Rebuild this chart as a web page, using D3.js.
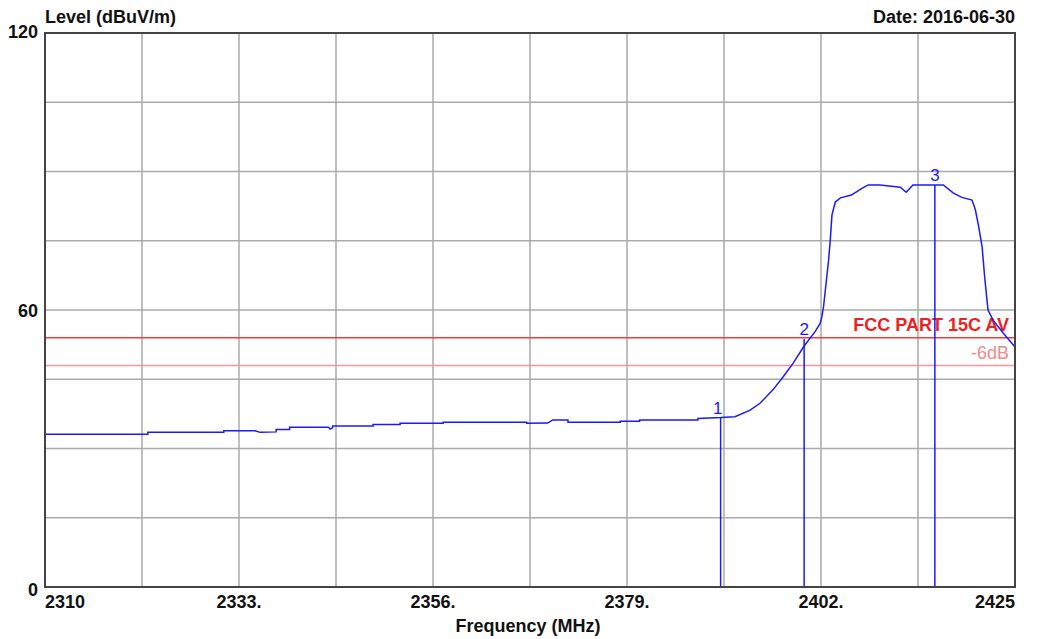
<!DOCTYPE html>
<html><head><meta charset="utf-8">
<script src="https://cdn.jsdelivr.net/npm/d3@7"></script>
<style>body{margin:0;background:#fff;}svg{display:block;font-family:"Liberation Sans",Arial,sans-serif;}</style>
</head><body><svg id="c" width="1037" height="639"></svg>
<script>
const freqs = [2310,2322.2,2322.2,2331.2,2331.2,2334.9,2335.5,2337.4,2337.4,2339.0,2339.0,2343.6,2343.8,2344.1,2344.1,2348.9,2348.9,2352.1,2352.1,2357.2,2357.2,2367.1,2367.1,2369.6,2370.2,2372.0,2372.0,2378.2,2378.2,2380.5,2380.5,2387.4,2387.4,2390.1,2391.8,2393.6,2394.8,2396.3,2397.5,2398.7,2400.0,2401.3,2401.9,2402.1,2402.3,2402.9,2403.1,2403.3,2403.7,2404.3,2405.6,2406.8,2407.6,2409.0,2411.4,2412.1,2412.9,2415.5,2416.5,2417.7,2418.7,2419.9,2420.3,2420.7,2421.1,2421.4,2421.8,2422.4,2423.6,2425];
const levels = [33.1,33.1,33.5,33.5,33.85,33.85,33.5,33.6,34.1,34.1,34.6,34.6,34.2,34.5,34.9,34.9,35.2,35.2,35.45,35.45,35.7,35.7,35.45,35.5,36.2,36.2,35.7,35.7,35.9,35.9,36.2,36.2,36.5,36.7,36.9,38.3,39.85,42.7,45.5,48.5,52.2,55.3,57.1,58.5,60.7,70.8,75.2,80.6,83.4,84.3,84.9,86.3,87.1,87.1,86.6,85.5,87.1,87.1,87.1,85.3,84.4,83.8,81.7,78.0,73.7,67.2,60.0,57.8,55.0,52.0];
const markerNames = ["1","2","3"];
const markerFreqs = [2390.1,2400.0,2415.5];
const markerLevels = [36.7,53.7,87.1];
const limitLevel = 54;
const limitLabel = "FCC PART 15C AV";
const marginLevel = 48;
const marginLabel = "-6dB";
const xTickValues = [2310,2333,2356,2379,2402,2425];
const xTickLabels = ["2310","2333.","2356.","2379.","2402.","2425"];
const yTickValues = [0,60,120];
const yTickLabels = ["0","60","120"];

const svg = d3.select("#c");
const L=45,R=1015,T=33,B=587;
const x = d3.scaleLinear().domain([2310,2425]).range([L,R]);
const y = d3.scaleLinear().domain([0,120]).range([B,T]);

// grid
const g = svg.append("g");
g.selectAll(".vg").data(d3.range(2310,2425.01,11.5)).join("line")
  .attr("x1",d=>x(d)).attr("x2",d=>x(d)).attr("y1",T).attr("y2",B)
  .attr("stroke","#aaa").attr("stroke-width",1.5);
g.selectAll(".hg").data(d3.range(0,120.01,15)).join("line")
  .attr("x1",L).attr("x2",R).attr("y1",d=>y(d)).attr("y2",d=>y(d))
  .attr("stroke","#aaa").attr("stroke-width",1.5);

// limit lines
svg.append("line").attr("x1",L).attr("x2",R).attr("y1",y(limitLevel)).attr("y2",y(limitLevel))
  .attr("stroke","#f03c3c").attr("stroke-width",1.5);
svg.append("line").attr("x1",L).attr("x2",R).attr("y1",y(marginLevel)).attr("y2",y(marginLevel))
  .attr("stroke","#f79898").attr("stroke-width",1.5);
svg.append("text").attr("x",1009).attr("y",y(limitLevel)-7).attr("text-anchor","end")
  .attr("font-size",18).attr("font-weight","bold").attr("fill","#f01e1e").text(limitLabel);
svg.append("text").attr("x",1009).attr("y",y(marginLevel)-6).attr("text-anchor","end")
  .attr("font-size",18).attr("fill","#f58a8a").text(marginLabel);

// trace
const pts = freqs.map((f,i)=>[f,levels[i]]);
svg.append("path").datum(pts)
  .attr("d",d3.line().x(d=>x(d[0])).y(d=>y(d[1])))
  .attr("fill","none").attr("stroke","#1a1aff").attr("stroke-width",1.5);

// markers
const labelDx = [-3,0,0];
markerFreqs.forEach((f,i)=>{
  svg.append("line").attr("x1",x(f)).attr("x2",x(f)).attr("y1",y(markerLevels[i])).attr("y2",B)
    .attr("stroke","#1a1aff").attr("stroke-width",1.5);
  svg.append("text").attr("x",x(f)+labelDx[i]).attr("y",y(markerLevels[i])-4).attr("text-anchor","middle")
    .attr("font-size",17).attr("fill","#1a1aff").text(markerNames[i]);
});

// frame
svg.append("rect").attr("x",L).attr("y",T).attr("width",R-L).attr("height",B-T)
  .attr("fill","none").attr("stroke","#444").attr("stroke-width",2);

// x axis labels
svg.selectAll(".xl").data(xTickValues).join("text")
  .attr("x",d=>x(d))
  .attr("y",608)
  .attr("text-anchor",(d,i)=>i===0?"start":(i===xTickValues.length-1?"end":"middle"))
  .attr("font-size",18).attr("font-weight","bold").attr("fill","#111")
  .text((d,i)=>xTickLabels[i]);
// y axis labels
svg.selectAll(".yl").data(yTickValues).join("text")
  .attr("x",38).attr("y",d=>y(d)+(d===0?9:(d===120?5:7))).attr("text-anchor","end")
  .attr("font-size",18).attr("font-weight","bold").attr("fill","#111")
  .text((d,i)=>yTickLabels[i]);

svg.append("text").attr("x",45).attr("y",23).attr("font-size",18).attr("font-weight","bold").attr("fill","#111").text("Level (dBuV/m)");
svg.append("text").attr("x",1015).attr("y",23).attr("text-anchor","end").attr("font-size",18).attr("font-weight","bold").attr("fill","#111").text("Date: 2016-06-30");
svg.append("text").attr("x",528).attr("y",632).attr("text-anchor","middle").attr("font-size",18).attr("font-weight","bold").attr("fill","#111").text("Frequency (MHz)");
</script></body></html>
